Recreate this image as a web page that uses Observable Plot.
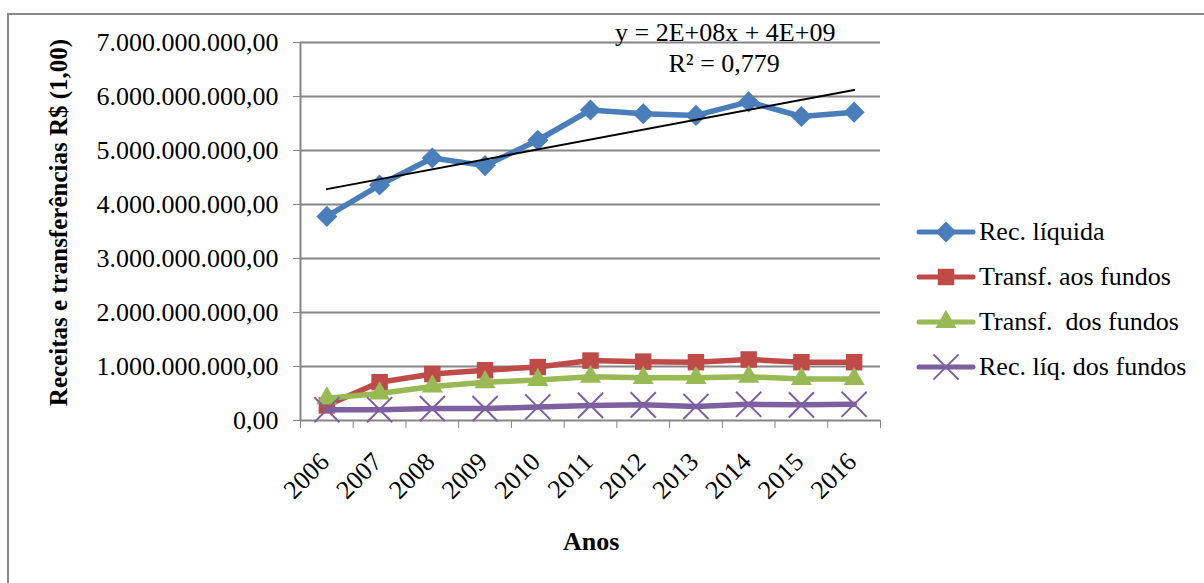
<!DOCTYPE html>
<html>
<head>
<meta charset="utf-8">
<script src="https://cdn.jsdelivr.net/npm/d3@7"></script>
<script src="https://cdn.jsdelivr.net/npm/@observablehq/plot@0.6"></script>
<style>
  body { margin: 0; background: #fff; }
  #wrap { position: relative; width: 1204px; height: 583px; overflow: hidden;
          font-family: "Liberation Serif", "Times New Roman", serif; color: #000; }
  #frame { position: absolute; left: 7px; top: 13px; width: 1400px; height: 800px;
           border-top: 2px solid #8a8a8a; border-left: 2px solid #8a8a8a; }
  #chart { position: absolute; left: 0; top: 0; }
  .txt { position: absolute; white-space: pre; font-size: 26px; line-height: 1; }
  .bold { font-weight: bold; }
  .legrow { position: absolute; left: 916px; height: 30px; display: flex; align-items: center; }
  .legrow span { font-family: "Liberation Serif", serif; font-size: 26px; white-space: pre; margin-left: 3px; }
</style>
</head>
<body>
<div id="wrap">
  <div id="frame"></div>
  <div id="chart"></div>
</div>
<script>
// ---------- data ----------
const years = [2006, 2007, 2008, 2009, 2010, 2011, 2012, 2013, 2014, 2015, 2016];
const recLiquida   = [3.78e9, 4.36e9, 4.86e9, 4.72e9, 5.19e9, 5.75e9, 5.68e9, 5.65e9, 5.90e9, 5.63e9, 5.71e9];
const transfAos    = [0.28e9, 0.71e9, 0.86e9, 0.93e9, 0.99e9, 1.11e9, 1.09e9, 1.08e9, 1.13e9, 1.08e9, 1.08e9];
const transfDos    = [0.41e9, 0.50e9, 0.63e9, 0.71e9, 0.75e9, 0.81e9, 0.79e9, 0.79e9, 0.81e9, 0.77e9, 0.77e9];
const recLiqFundos = [0.20e9, 0.20e9, 0.22e9, 0.22e9, 0.25e9, 0.28e9, 0.29e9, 0.26e9, 0.30e9, 0.29e9, 0.30e9];
const seriesNames  = ["Rec. líquida", "Transf. aos fundos", "Transf.  dos fundos", "Rec. líq. dos fundos"];
const seriesColors = ["#4A7EBB", "#BE4B48", "#98B954", "#7D60A0"];
const yTicks = [0, 1e9, 2e9, 3e9, 4e9, 5e9, 6e9, 7e9];
const trendLabels = ["y = 2E+08x + 4E+09", "R² = 0,779"];
const yTitle = "Receitas e transferências R$ (1,00)";
const xTitle = "Anos";

// ---------- build ----------
const valuesBySeries = [recLiquida, transfAos, transfDos, recLiqFundos];
const rows = [];
valuesBySeries.forEach((vals, si) => years.forEach((yr, i) => rows.push({series: seriesNames[si], year: yr, value: vals[i]})));
const bySeries = name => rows.filter(d => d.series === name);

const locale = d3.formatLocale({decimal: ",", thousands: ".", grouping: [3], currency: ["R$ ", ""]});
const fmt = locale.format(",.2f");
const boundaries = [years[0] - 0.5, ...years.map(y => y + 0.5)];

const gray = "#868686";
const serif = '"Liberation Serif", "Times New Roman", serif';
const symbolDefs = [
  {symbol: "diamond2", r: 9.5, fill: true},
  {symbol: "square", r: 9.3, fill: true},
  {symbol: "triangle", r: 7.8, fill: true},
  {symbol: "times", r: 11.5, fill: false}
];

const marks = [
  Plot.ruleY(yTicks.filter(d => d > 0), {stroke: gray, strokeWidth: 2}),
  Plot.ruleX([boundaries[0]], {stroke: gray, strokeWidth: 2}),
  Plot.ruleY([0], {stroke: gray, strokeWidth: 2}),
  Plot.axisY({ticks: yTicks, tickFormat: fmt, tickSize: 7, tickPadding: 15, stroke: gray, fill: "#000", fontSize: 26, fontFamily: serif, label: null}),
  Plot.axisX({ticks: boundaries, tickFormat: () => "", tickSize: 8, stroke: gray, label: null}),
  Plot.axisX({ticks: years, tickFormat: d => String(d), tickSize: 0, tickPadding: 37, tickRotate: -45, dx: -2, fill: "#000", fontSize: 26, fontFamily: serif, label: null})
];
seriesNames.forEach((name, si) => {
  const data = bySeries(name);
  const c = seriesColors[si];
  const s = symbolDefs[si];
  marks.push(Plot.line(data, {x: "year", y: "value", stroke: c, strokeWidth: 5.5, strokeLinejoin: "round", strokeLinecap: "round"}));
  marks.push(Plot.dot(data, s.fill
    ? {x: "year", y: "value", symbol: () => s.symbol, r: s.r, fill: c, stroke: "none"}
    : {x: "year", y: "value", symbol: () => s.symbol, r: s.r, stroke: c, strokeWidth: 2, fill: "none"}));
});
marks.push(Plot.linearRegressionY(bySeries(seriesNames[0]), {x: "year", y: "value", stroke: "#000", strokeWidth: 2, ci: 0}));

const chart = Plot.plot({
  width: 1204,
  height: 583,
  marginLeft: 300,
  marginRight: 324,
  marginTop: 42,
  marginBottom: 163,
  style: {background: "transparent", fontFamily: serif, fontSize: "26px", color: "#000", overflow: "visible"},
  x: {type: "linear", domain: [boundaries[0], boundaries[boundaries.length - 1]], axis: null},
  y: {type: "linear", domain: [0, 7e9], axis: null},
  symbol: {type: "identity"},
  marks
});
document.getElementById("chart").appendChild(chart);

// ---------- text overlays ----------
const wrap = document.getElementById("wrap");
function addText(str, cx, cy, cls, rotate, size) {
  const el = document.createElement("div");
  el.className = "txt " + (cls || "");
  if (size) el.style.fontSize = size + "px";
  el.textContent = str;
  wrap.appendChild(el);
  const w = el.offsetWidth, h = el.offsetHeight;
  el.style.left = (cx - w / 2) + "px";
  el.style.top = (cy - h / 2) + "px";
  if (rotate) el.style.transform = `rotate(${rotate}deg)`;
  return el;
}
addText(trendLabels[0], 725, 33);
addText(trendLabels[1], 724, 64);
addText(xTitle, 591, 542, "bold");
addText(yTitle, 58, 222, "bold", -90, 25);

// ---------- legend ----------
const legendY = [232, 277, 322, 367];
seriesNames.forEach((name, si) => {
  const row = document.createElement("div");
  row.className = "legrow";
  row.style.top = (legendY[si] - 15) + "px";
  const svg = d3.create("svg").attr("width", 60).attr("height", 30);
  const c = seriesColors[si];
  svg.append("line").attr("x1", 3).attr("x2", 57).attr("y1", 15).attr("y2", 15)
    .attr("stroke", c).attr("stroke-width", 5).attr("stroke-linecap", "round");
  const s = symbolDefs[si];
  const symType = {diamond2: d3.symbolDiamond2, square: d3.symbolSquare, triangle: d3.symbolTriangle, times: d3.symbolTimes}[s.symbol];
  const p = svg.append("path").attr("transform", "translate(30,15)")
    .attr("d", d3.symbol(symType, Math.PI * s.r * s.r)());
  if (s.fill) p.attr("fill", c); else p.attr("fill", "none").attr("stroke", c).attr("stroke-width", 2);
  row.appendChild(svg.node());
  const t = document.createElement("span");
  t.textContent = name;
  row.appendChild(t);
  wrap.appendChild(row);
});
</script>
</body>
</html>
